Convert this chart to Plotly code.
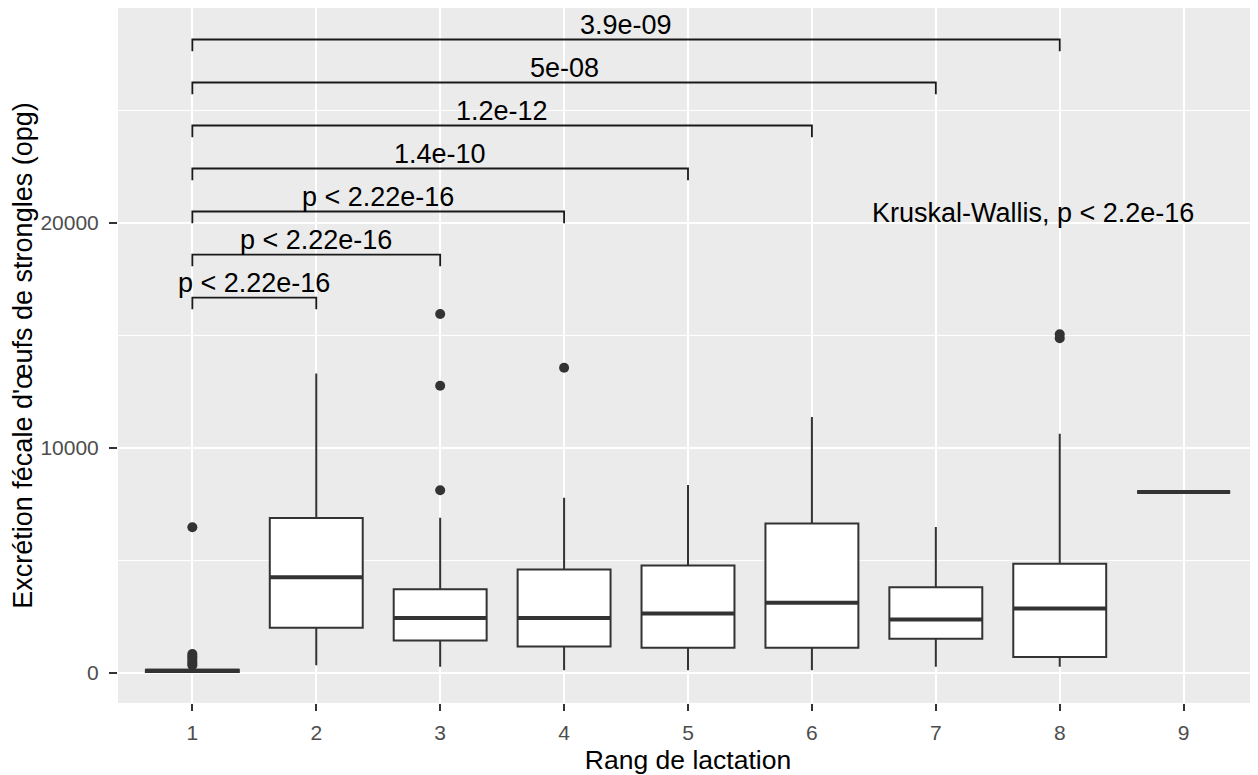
import plotly.graph_objects as go

# ---- data ----
categories = [1, 2, 3, 4, 5, 6, 7, 8, 9]
q1 = [50, 2010, 1450, 1180, 1120, 1120, 1520, 710, 8040]
median = [100, 4260, 2450, 2450, 2650, 3120, 2380, 2870, 8040]
q3 = [150, 6890, 3720, 4600, 4780, 6640, 3810, 4850, 8040]
lower_whisker = [0, 350, 280, 130, 130, 130, 280, 280, 8040]
upper_whisker = [250, 13300, 6900, 7790, 8350, 11370, 6490, 10630, 8040]

outlier_x = [1, 1, 1, 1, 1, 1, 1, 3, 3, 3, 4, 8, 8]
outlier_y = [350, 450, 550, 650, 750, 850, 6480, 8120, 12760, 15950, 13560, 14870, 15050]

# pairwise comparisons (group1, group2, bracket height, label)
comp_g1 = [1, 1, 1, 1, 1, 1, 1]
comp_g2 = [2, 3, 4, 5, 6, 7, 8]
comp_y = [16680, 18590, 20500, 22410, 24320, 26230, 28140]
comp_label = ["p < 2.22e-16", "p < 2.22e-16", "p < 2.22e-16", "1.4e-10",
              "1.2e-12", "5e-08", "3.9e-09"]

kw_label = "Kruskal-Wallis, p < 2.2e-16"
kw_x = 6.47
kw_y = 20000

y_ticks = [0, 10000, 20000]

# ---- style ----
FONT = "Liberation Sans, Arial, sans-serif"
DARK = "#333333"
BOX_W = 0.75
TIP = 520

fig = go.Figure()

fig.add_trace(go.Box(
    x=categories, q1=q1, median=median, q3=q3,
    lowerfence=lower_whisker, upperfence=upper_whisker,
    width=BOX_W, boxpoints=False, whiskerwidth=0,
    fillcolor="white", line=dict(color=DARK, width=2),
    hoverinfo="skip", showlegend=False,
))

# thicker median lines
mx, my = [], []
for c, m in zip(categories, median):
    mx += [c - BOX_W / 2, c + BOX_W / 2, None]
    my += [m, m, None]
fig.add_trace(go.Scatter(x=mx, y=my, mode="lines",
                         line=dict(color=DARK, width=4),
                         hoverinfo="skip", showlegend=False))

# outliers
fig.add_trace(go.Scatter(x=outlier_x, y=outlier_y, mode="markers",
                         marker=dict(color=DARK, size=10),
                         hoverinfo="skip", showlegend=False))

# brackets
bx, by = [], []
for g1, g2, yb in zip(comp_g1, comp_g2, comp_y):
    bx += [g1, g1, g2, g2, None]
    by += [yb - TIP, yb, yb, yb - TIP, None]
fig.add_trace(go.Scatter(x=bx, y=by, mode="lines",
                         line=dict(color="#1a1a1a", width=1.8),
                         hoverinfo="skip", showlegend=False))

annotations = []
for g1, g2, yb, lab in zip(comp_g1, comp_g2, comp_y, comp_label):
    annotations.append(dict(
        x=(g1 + g2) / 2, y=yb, xref="x", yref="y", text=lab,
        showarrow=False, xanchor="center", yanchor="bottom", yshift=-2,
        font=dict(family=FONT, size=27, color="black")))
annotations.append(dict(
    x=kw_x, y=kw_y, xref="x", yref="y", text=kw_label,
    showarrow=False, xanchor="left", yanchor="bottom", yshift=-7,
    font=dict(family=FONT, size=27, color="black")))

fig.update_layout(
    width=1250, height=767,
    margin=dict(l=110, r=0, t=0, b=72),
    paper_bgcolor="white", plot_bgcolor="#EBEBEB",
    annotations=annotations,
    font=dict(family=FONT),
    xaxis=dict(
        range=[0.4, 9.6], tickvals=categories,
        ticktext=[str(c) for c in categories],
        showgrid=True, gridcolor="white", gridwidth=2,
        zeroline=False, showline=False,
        ticks="outside", ticklen=7, tickwidth=2, tickcolor=DARK,
        ticklabelstandoff=4,
        tickfont=dict(family=FONT, size=21, color="#4D4D4D"),
        title=dict(text="Rang de lactation", standoff=11,
                   font=dict(family=FONT, size=26.5, color="black")),
    ),
    yaxis=dict(
        range=[-1330, 29540], tickvals=y_ticks,
        ticktext=[str(v) for v in y_ticks],
        showgrid=True, gridcolor="white", gridwidth=2,
        minor=dict(tick0=0, dtick=5000, showgrid=True,
                   gridcolor="white", gridwidth=1),
        zeroline=False, showline=False,
        ticks="outside", ticklen=8, tickwidth=2, tickcolor=DARK,
        ticklabelstandoff=6,
        tickfont=dict(family=FONT, size=21, color="#4D4D4D"),
        title=dict(text="Excrétion fécale d'œufs de strongles (opg)", standoff=0,
                   font=dict(family=FONT, size=27, color="black")),
    ),
)

fig.write_html("out.html")
